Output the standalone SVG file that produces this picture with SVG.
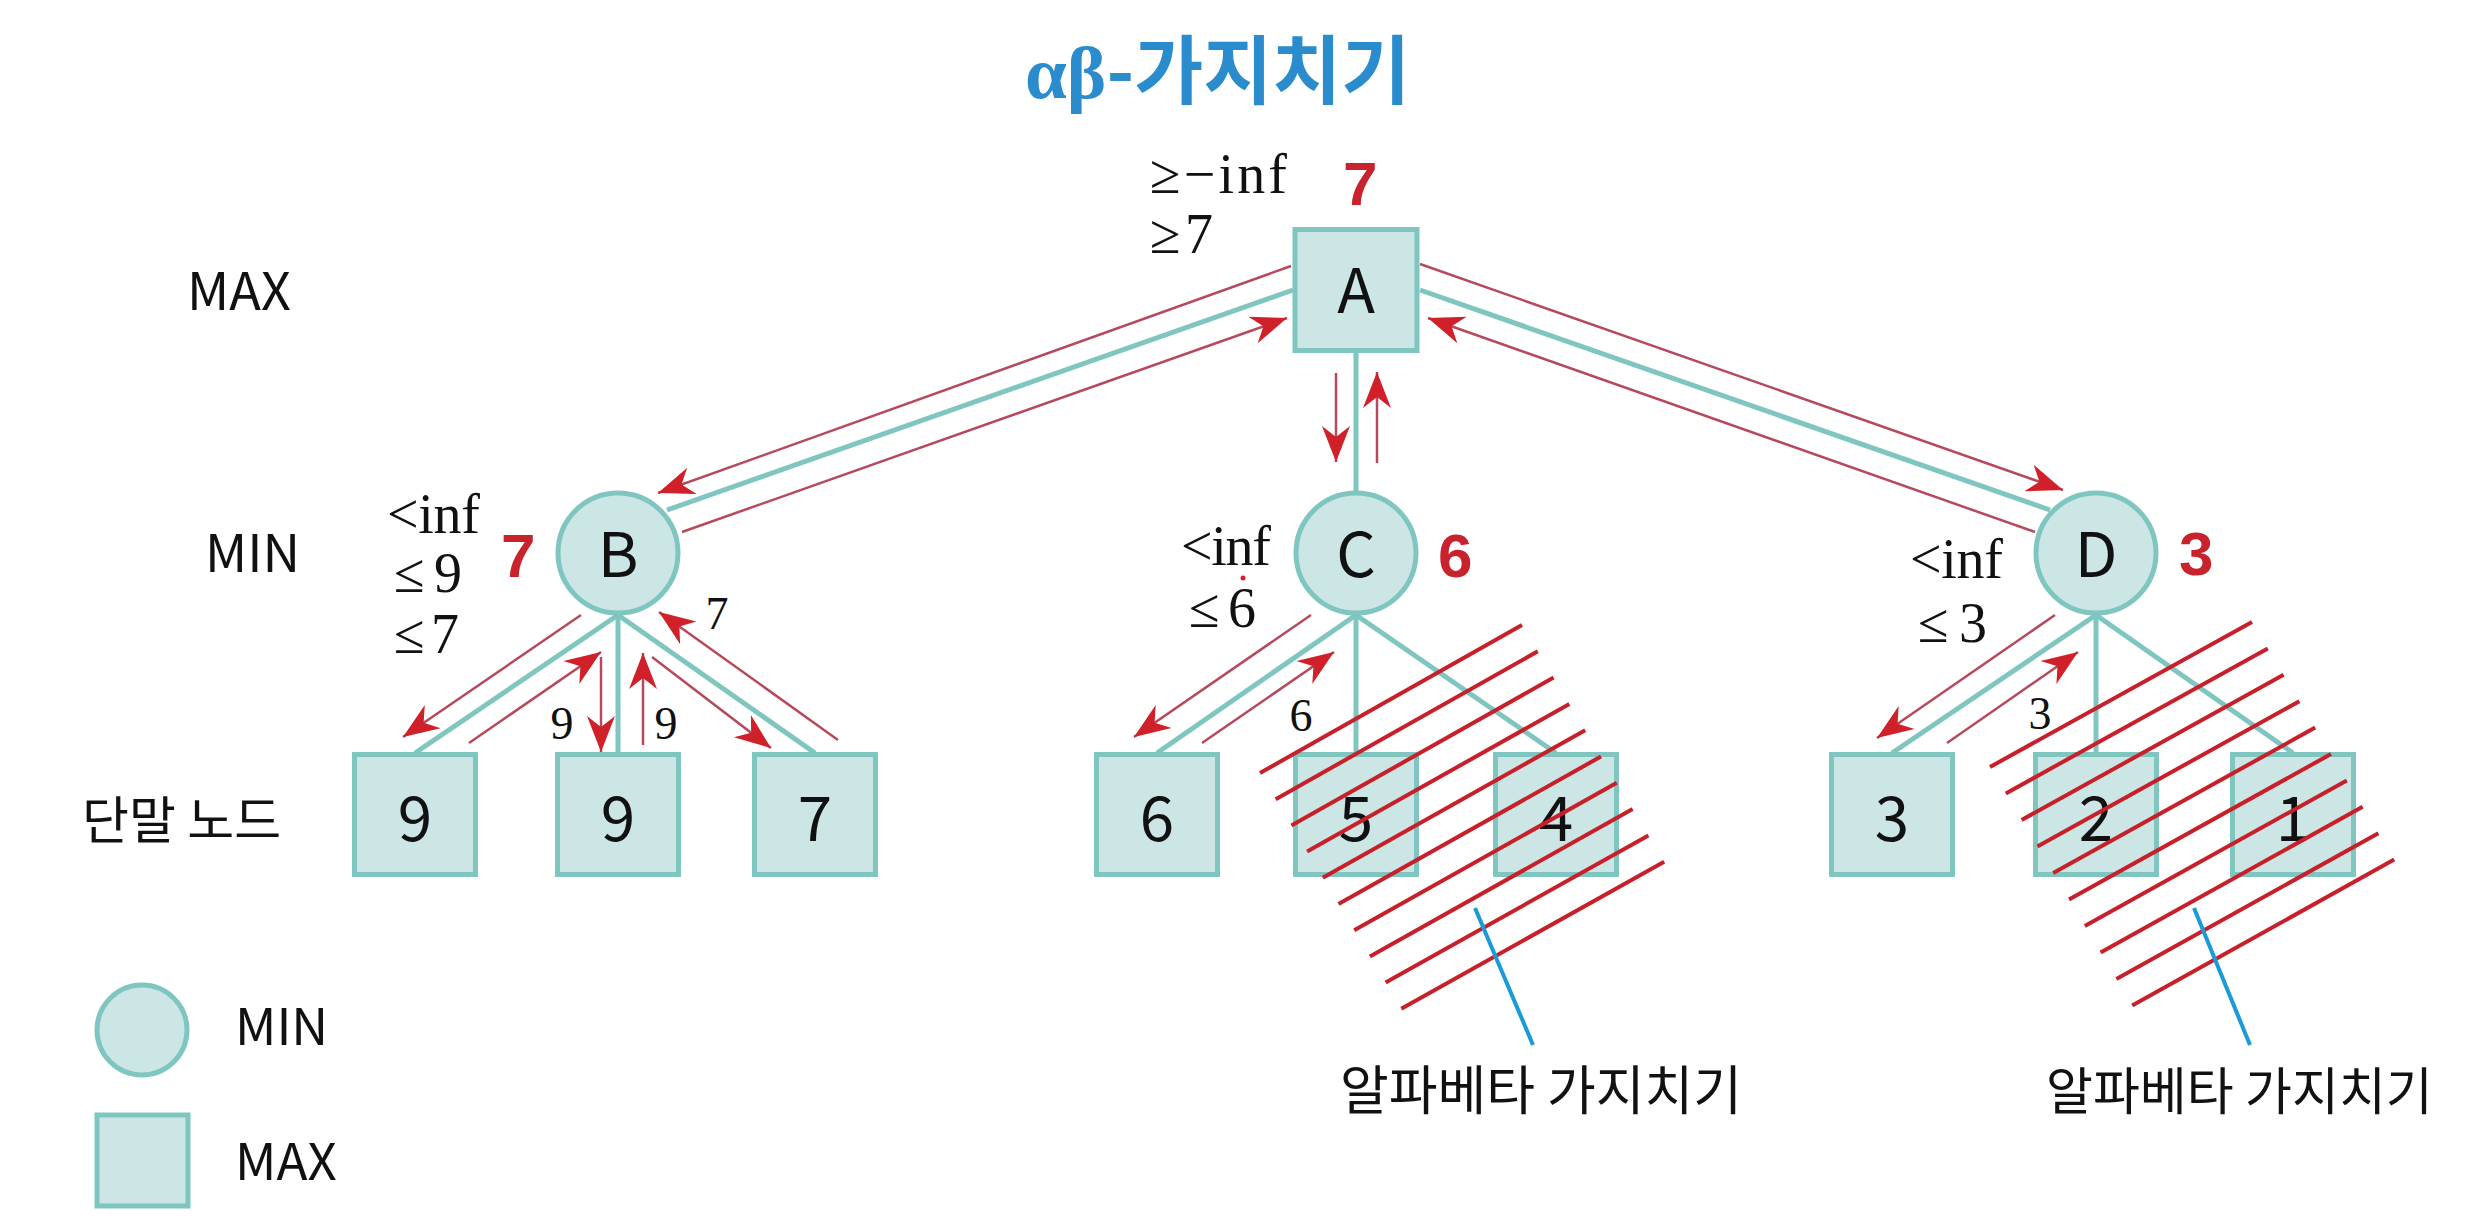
<svg xmlns="http://www.w3.org/2000/svg" width="2487" height="1221" viewBox="0 0 2487 1221">
<defs>
<style>
.node{fill:#cce6e6;stroke:#7fc5c0;stroke-width:5}
.edge{stroke:#7fc5c0;stroke-width:5;fill:none}
.arr{stroke:#b64a5c;stroke-width:2.5;fill:none;marker-end:url(#ah)}
.hatch{stroke:#c8202a;stroke-width:4}
.ptr{stroke:#1a9ad6;stroke-width:4}
.lbl{font-family:"Noto Sans CJK KR","Noto Sans",sans-serif;fill:#111}
.math{font-family:"Liberation Serif","DejaVu Serif",serif;fill:#111}
.val{font-family:"Liberation Sans",Arial,sans-serif;font-weight:bold;fill:#c8232c;font-size:62px}
.nm{font-family:"Noto Sans CJK KR","Noto Sans",sans-serif;fill:#111;font-size:62px;text-anchor:middle}
</style>
<marker id="ah" markerUnits="userSpaceOnUse" markerWidth="42" markerHeight="32" viewBox="-38 -16 42 32" refX="0" refY="0" orient="auto">
<path d="M0,0 L-36,-14 L-25,0 L-36,14 Z" fill="#d0202a"/>
</marker>
</defs>
<rect width="2487" height="1221" fill="#ffffff"/>

<g id="title">
<text x="1025" y="98" font-size="75" font-weight="bold" fill="#2a8ccc"><tspan font-family="Liberation Serif,serif">αβ</tspan><tspan font-family="Noto Sans CJK KR,sans-serif">-가지치기</tspan></text>
</g>

<g id="row-labels" class="lbl">
<text x="187" y="310" font-size="52">MAX</text>
<text x="205" y="572" font-size="52">MIN</text>
<text x="82" y="839" font-size="51">단말 노드</text>
</g>

<g id="connectors">
<line class="edge" x1="1293" y1="290" x2="667" y2="510"/>
<line class="edge" x1="1420" y1="290" x2="2050" y2="510"/>
<line class="edge" x1="1356" y1="353" x2="1356" y2="491"/>
<line class="edge" x1="618" y1="615" x2="415" y2="753"/>
<line class="edge" x1="618" y1="615" x2="618" y2="753"/>
<line class="edge" x1="618" y1="615" x2="815" y2="753"/>
<line class="edge" x1="1356" y1="615" x2="1157" y2="753"/>
<line class="edge" x1="1356" y1="615" x2="1356" y2="753"/>
<line class="edge" x1="1356" y1="615" x2="1556" y2="753"/>
<line class="edge" x1="2096" y1="615" x2="1892" y2="753"/>
<line class="edge" x1="2096" y1="615" x2="2096" y2="753"/>
<line class="edge" x1="2096" y1="615" x2="2293" y2="753"/>

<line class="arr" x1="1291" y1="266" x2="658" y2="493"/>
<line class="arr" x1="682" y1="532" x2="1287" y2="318"/>
<line class="arr" x1="1336" y1="373" x2="1336" y2="462"/>
<line class="arr" x1="1377" y1="463" x2="1377" y2="372"/>
<line class="arr" x1="1420" y1="264" x2="2063" y2="490"/>
<line class="arr" x1="2035" y1="532" x2="1428" y2="318"/>

<line class="arr" x1="581" y1="615" x2="403" y2="737"/>
<line class="arr" x1="469" y1="743" x2="601" y2="652"/>
<line class="arr" x1="601" y1="657" x2="601" y2="752"/>
<line class="arr" x1="643" y1="745" x2="643" y2="653"/>
<line class="arr" x1="652" y1="657" x2="771" y2="748"/>
<line class="arr" x1="838" y1="740" x2="659" y2="612"/>
<line class="arr" x1="1311" y1="615" x2="1134" y2="737"/>
<line class="arr" x1="1202" y1="743" x2="1334" y2="652"/>
<line class="arr" x1="2055" y1="615" x2="1877" y2="738"/>
<line class="arr" x1="1947" y1="743" x2="2078" y2="652"/>

<g class="math" font-size="46" text-anchor="middle">
<text x="562" y="739">9</text>
<text x="666" y="739">9</text>
<text x="717" y="629">7</text>
<text x="1301" y="731">6</text>
<text x="2040" y="729">3</text>
</g>
</g>

<g id="node-A">
<rect class="node" x="1295" y="229.5" width="122" height="121"/>
<text class="nm" x="1356" y="313">A</text>
<text class="math" x="1150" y="193" font-size="56" textLength="137" lengthAdjust="spacing">≥−inf</text>
<text class="math" x="1150" y="253" font-size="56" textLength="63" lengthAdjust="spacing">≥7</text>
<text class="val" x="1343" y="205">7</text>
</g>

<g id="node-B">
<circle class="node" cx="618" cy="553" r="60"/>
<text class="nm" x="618" y="577">B</text>
<text class="math" x="387" y="533" font-size="56" textLength="93" lengthAdjust="spacing">&lt;inf</text>
<text class="math" x="394" y="592" font-size="56" textLength="68" lengthAdjust="spacing">≤9</text>
<text class="math" x="394" y="653" font-size="56" textLength="65" lengthAdjust="spacing">≤7</text>
<text class="val" x="501" y="577">7</text>
</g>

<g id="node-C">
<circle class="node" cx="1356" cy="553" r="60"/>
<text class="nm" x="1356" y="577">C</text>
<text class="math" x="1181" y="565" font-size="56" textLength="90" lengthAdjust="spacing">&lt;inf</text>
<text class="math" x="1189" y="627" font-size="56" textLength="67" lengthAdjust="spacing">≤6</text>
<circle cx="1243" cy="578" r="2.5" fill="#d0202a"/>
<text class="val" x="1438" y="577">6</text>
</g>

<g id="node-D">
<circle class="node" cx="2096" cy="553" r="60"/>
<text class="nm" x="2096" y="577">D</text>
<text class="math" x="1910" y="578" font-size="56" textLength="93" lengthAdjust="spacing">&lt;inf</text>
<text class="math" x="1918" y="642" font-size="56" textLength="69" lengthAdjust="spacing">≤3</text>
<text class="val" x="2179" y="575">3</text>
</g>

<g id="leaf-B1"><rect class="node" x="354.5" y="754.5" width="121" height="120"/><text class="nm" x="415" y="841">9</text></g>
<g id="leaf-B2"><rect class="node" x="557.5" y="754.5" width="121" height="120"/><text class="nm" x="618" y="841">9</text></g>
<g id="leaf-B3"><rect class="node" x="754.5" y="754.5" width="121" height="120"/><text class="nm" x="815" y="841">7</text></g>
<g id="leaf-C1"><rect class="node" x="1096.5" y="754.5" width="121" height="120"/><text class="nm" x="1157" y="841">6</text></g>
<g id="leaf-C2"><rect class="node" x="1295.5" y="754.5" width="121" height="120"/><text class="nm" x="1356" y="841">5</text></g>
<g id="leaf-C3"><rect class="node" x="1495.5" y="754.5" width="121" height="120"/><text class="nm" x="1556" y="841">4</text></g>
<g id="leaf-D1"><rect class="node" x="1831.5" y="754.5" width="121" height="120"/><text class="nm" x="1892" y="841">3</text></g>
<g id="leaf-D2"><rect class="node" x="2035.5" y="754.5" width="121" height="120"/><text class="nm" x="2096" y="841">2</text></g>
<g id="leaf-D3"><rect class="node" x="2232.5" y="754.5" width="121" height="120"/><text class="nm" x="2293" y="841">1</text></g>

<g id="prune-C">
<line class="hatch" x1="1260" y1="773" x2="1522" y2="625"/>
<line class="hatch" x1="1275.7" y1="799.2" x2="1537.8" y2="651.3"/>
<line class="hatch" x1="1291.4" y1="825.4" x2="1553.6" y2="677.6"/>
<line class="hatch" x1="1307.1" y1="851.6" x2="1569.4" y2="703.9"/>
<line class="hatch" x1="1322.8" y1="877.8" x2="1585.2" y2="730.2"/>
<line class="hatch" x1="1338.5" y1="904" x2="1601" y2="756.5"/>
<line class="hatch" x1="1354.2" y1="930.2" x2="1616.8" y2="782.8"/>
<line class="hatch" x1="1369.9" y1="956.4" x2="1632.6" y2="809.1"/>
<line class="hatch" x1="1385.6" y1="982.6" x2="1648.4" y2="835.4"/>
<line class="hatch" x1="1401.3" y1="1008.8" x2="1664.2" y2="861.7"/>
<line class="ptr" x1="1475" y1="908" x2="1533" y2="1045"/>
<text class="lbl" x="1340" y="1110" font-size="53">알파베타 가지치기</text>
</g>

<g id="prune-D">
<line class="hatch" x1="1990" y1="767" x2="2252" y2="622"/>
<line class="hatch" x1="2005.8" y1="793.5" x2="2267.8" y2="648.4"/>
<line class="hatch" x1="2021.6" y1="820" x2="2283.6" y2="674.8"/>
<line class="hatch" x1="2037.4" y1="846.5" x2="2299.4" y2="701.2"/>
<line class="hatch" x1="2053.2" y1="873" x2="2315.2" y2="727.6"/>
<line class="hatch" x1="2069" y1="899.5" x2="2331" y2="754"/>
<line class="hatch" x1="2084.8" y1="926" x2="2346.8" y2="780.4"/>
<line class="hatch" x1="2100.6" y1="952.5" x2="2362.6" y2="806.8"/>
<line class="hatch" x1="2116.4" y1="979" x2="2378.4" y2="833.2"/>
<line class="hatch" x1="2132.2" y1="1005.5" x2="2394.2" y2="859.6"/>
<line class="ptr" x1="2194" y1="908" x2="2250" y2="1045"/>
<text class="lbl" x="2046" y="1110" font-size="51">알파베타 가지치기</text>
</g>

<g id="legend">
<g id="legend-min"><circle class="node" cx="142" cy="1030" r="45" stroke-width="4"/><text class="lbl" x="235" y="1045" font-size="51">MIN</text></g>
<g id="legend-max"><rect class="node" x="97" y="1115" width="91" height="91" stroke-width="4"/><text class="lbl" x="235" y="1180" font-size="51">MAX</text></g>
</g>
</svg>
